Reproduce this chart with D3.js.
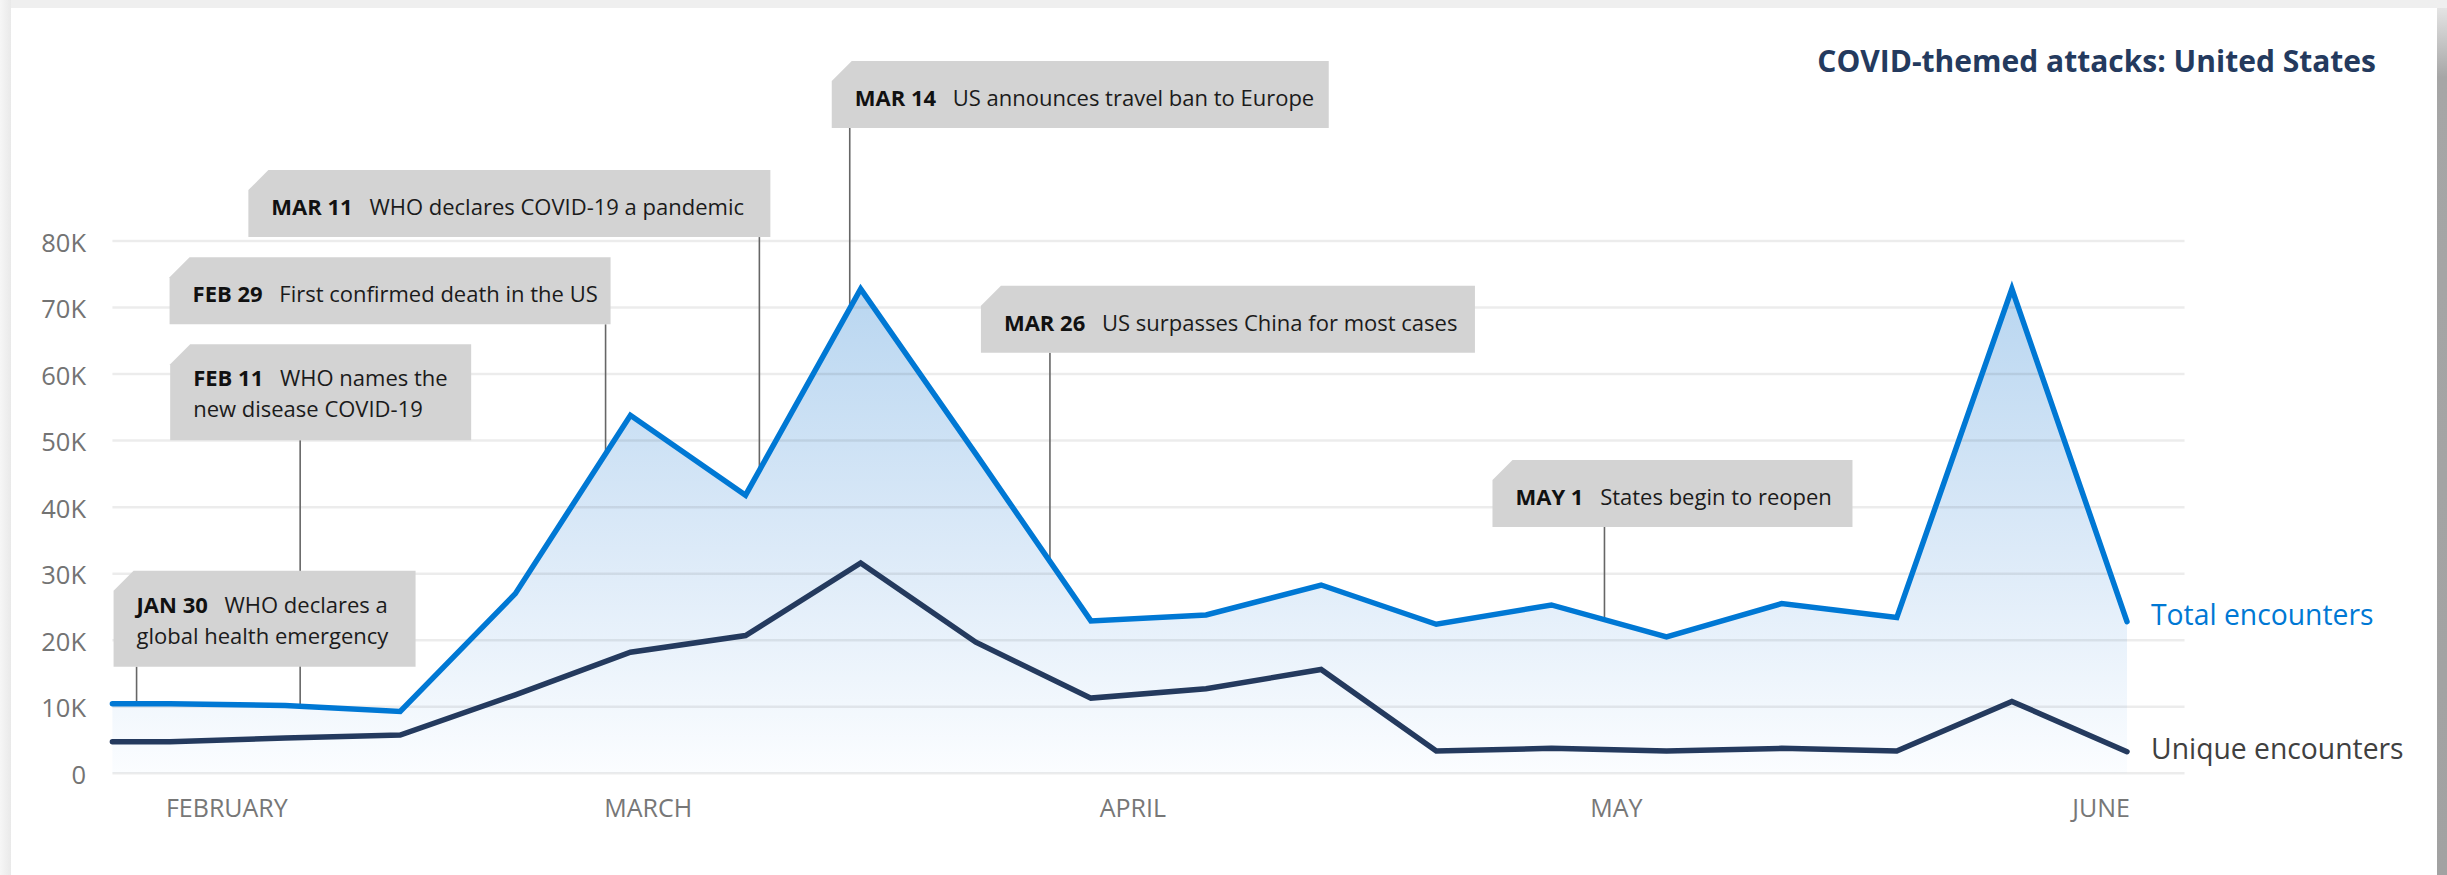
<!DOCTYPE html>
<html><head><meta charset="utf-8">
<script src="https://cdn.jsdelivr.net/npm/d3@7"></script>
<style>
body{margin:0;background:#fff;}
svg{display:block;font-family:"Open Sans","Noto Sans",sans-serif;}
</style>
</head><body>
<svg id="chart" width="2447" height="875"></svg>
<script>
// ---------------- data ----------------
const weekIndex = [-0.5, 0, 1, 2, 3, 4, 5, 6, 7, 8, 9, 10, 11, 12, 13, 14, 15, 16, 17];
const totalEncounters  = [10.45, 10.45, 10.2, 9.3, 27.0, 53.8, 41.8, 72.8, 48.0, 22.9, 23.8, 28.3, 22.4, 25.3, 20.5, 25.5, 23.4, 72.8, 22.8]; // thousands
const uniqueEncounters = [4.75, 4.75, 5.3, 5.75, 11.8, 18.2, 20.7, 31.6, 19.7, 11.3, 12.7, 15.6, 3.35, 3.75, 3.35, 3.75, 3.35, 10.8, 3.25]; // thousands
const yTickValues = [0, 10, 20, 30, 40, 50, 60, 70, 80];
const yTickLabels = ["0", "10K", "20K", "30K", "40K", "50K", "60K", "70K", "80K"];
const monthPositions = [0.49, 4.15, 8.36, 12.56, 16.77];
const monthLabels = ["FEBRUARY", "MARCH", "APRIL", "MAY", "JUNE"];
const seriesNames = ["Total encounters", "Unique encounters"];
const chartTitle = "COVID-themed attacks: United States";
const annotationDates = ["JAN 30", "FEB 11", "FEB 29", "MAR 11", "MAR 14", "MAR 26", "MAY 1"];
const annotationTexts = [
  ["WHO declares a", "global health emergency"],
  ["WHO names the", "new disease COVID-19"],
  ["First confirmed death in the US"],
  ["WHO declares COVID-19 a pandemic"],
  ["US announces travel ban to Europe"],
  ["US surpasses China for most cases"],
  ["States begin to reopen"]
];
const annotationAnchors = [-0.29, 1.131, 3.784, 5.12, 5.905, 7.644, 12.461]; // week index
const annotationBoxTops = [30.45, 64.5, 77.55, 90.66, 107.05, 73.28, 47.09];  // y value (thousands)

// ---------------- layout / style ----------------
const annotationLayout = [
  {dx: -23, w: 302}, {dx: -130, w: 301}, {dx: -436, w: 441}, {dx: -511, w: 522},
  {dx: -18, w: 497}, {dx: -69, w: 494}, {dx: -112, w: 360}
];
const W = 2447, H = 875;
const colTotal = "#0078d4", colUnique = "#243a5e";

const svg = d3.select("#chart");

// frame
const defs = svg.append("defs");
const lg = defs.append("linearGradient").attr("id","leftband").attr("x1",0).attr("x2",1).attr("y1",0).attr("y2",0);
lg.append("stop").attr("offset",0).attr("stop-color","#f6f6f6");
lg.append("stop").attr("offset",1).attr("stop-color","#e9e9e9");
const rg = defs.append("linearGradient").attr("id","rightband").attr("x1",0).attr("x2",0).attr("y1",0).attr("y2",1);
rg.append("stop").attr("offset",0).attr("stop-color","#e4e4e4");
rg.append("stop").attr("offset",0.08).attr("stop-color","#a6a6a6");
rg.append("stop").attr("offset",1).attr("stop-color","#a2a2a2");
svg.append("rect").attr("x",0).attr("y",0).attr("width",W).attr("height",8).attr("fill","#efefef");
svg.append("rect").attr("x",0).attr("y",0).attr("width",11).attr("height",H).attr("fill","url(#leftband)");
svg.append("rect").attr("x",2437).attr("y",8).attr("width",10).attr("height",H-8).attr("fill","url(#rightband)");

// scales
const x = d3.scaleLinear().domain([-0.5, 17]).range([112.4, 2127]);
const y = d3.scaleLinear().domain([0, 80]).range([773.3, 241]);

const totalData = weekIndex.map((w,i)=>({w, v: totalEncounters[i]}));
const uniqueData = weekIndex.map((w,i)=>({w, v: uniqueEncounters[i]}));

// area gradient
const ag = defs.append("linearGradient").attr("id","areaGrad").attr("gradientUnits","userSpaceOnUse")
  .attr("x1",0).attr("x2",0).attr("y1",y(75)).attr("y2",y(0));
ag.append("stop").attr("offset",0).attr("stop-color","#b7d5f0");
ag.append("stop").attr("offset",0.55).attr("stop-color","#dceaf8");
ag.append("stop").attr("offset",1).attr("stop-color","#fbfdff");

svg.append("path").datum(totalData)
  .attr("d", d3.area().x(d=>x(d.w)).y0(y(0)).y1(d=>y(d.v)))
  .attr("fill","url(#areaGrad)");

// gridlines
svg.append("g").selectAll("line").data(yTickValues).join("line")
  .attr("x1", x(-0.5)).attr("x2", x(17.5))
  .attr("y1", d=>y(d)).attr("y2", d=>y(d))
  .attr("stroke","rgba(0,0,0,0.075)").attr("stroke-width",2.5);

// y axis labels
const yAxis = d3.axisLeft(y).tickValues(yTickValues).tickFormat((d,i)=>yTickLabels[i]).tickSize(0).tickPadding(0);
const yg = svg.append("g").attr("transform","translate(86,0)").call(yAxis);
yg.select(".domain").remove();
yg.selectAll("text").attr("font-size",25.5).attr("fill","#737373").attr("font-family","Open Sans").attr("dy","0.4em").attr("x",0);

// x axis month labels
const xAxis = d3.axisBottom(x).tickValues(monthPositions).tickFormat((d,i)=>monthLabels[i]).tickSize(0);
const xg = svg.append("g").attr("transform",`translate(0,${y(0)})`).call(xAxis);
xg.select(".domain").remove();
xg.selectAll("text").attr("font-size",25).attr("fill","#777").attr("font-family","Open Sans").attr("y",35).attr("dy","0.36em");

// annotations
function totalAt(w){
  for(let i=0;i<weekIndex.length-1;i++){
    if(w>=weekIndex[i] && w<=weekIndex[i+1]){
      const t=(w-weekIndex[i])/(weekIndex[i+1]-weekIndex[i]);
      return totalEncounters[i]+t*(totalEncounters[i+1]-totalEncounters[i]);
    }
  }
  return totalEncounters[0];
}
const annG = svg.append("g");
const connG = annG.append("g");
const boxG = annG.append("g");
annotationDates.forEach((dt,i)=>{
  const ax = x(annotationAnchors[i]);
  const top = y(annotationBoxTops[i]);
  const lines = annotationTexts[i];
  const two = lines.length > 1;
  const h = two ? 96 : 67;
  const L = annotationLayout[i];
  connG.append("line").attr("x1",ax).attr("x2",ax).attr("y1",top+h).attr("y2",y(totalAt(annotationAnchors[i])))
    .attr("stroke","#666").attr("stroke-width",1.6);
  const bx = ax + L.dx, c = 20;
  boxG.append("path")
    .attr("d",`M${bx},${top+c} L${bx+c},${top} L${bx+L.w},${top} L${bx+L.w},${top+h} L${bx},${top+h} Z`)
    .attr("fill","#d3d3d3");
  const t = boxG.append("text").attr("x",bx+23).attr("y",top+(two?42:45)).attr("font-size",22).attr("fill","#1b1b1b");
  t.append("tspan").attr("font-weight",700).attr("fill","#111").text(dt);
  t.append("tspan").attr("dx",11).text(" "+lines[0]);
  if(two){
    boxG.append("text").attr("x",bx+23).attr("y",top+73).attr("font-size",22).attr("fill","#1b1b1b").text(lines[1]);
  }
});

// lines
const line = d3.line().x(d=>x(d.w)).y(d=>y(d.v));
svg.append("path").datum(uniqueData).attr("d",line).attr("fill","none")
  .attr("stroke",colUnique).attr("stroke-width",5.5).attr("stroke-linejoin","miter").attr("stroke-miterlimit",8).attr("stroke-linecap","round");
svg.append("path").datum(totalData).attr("d",line).attr("fill","none")
  .attr("stroke",colTotal).attr("stroke-width",5.5).attr("stroke-linejoin","miter").attr("stroke-miterlimit",8).attr("stroke-linecap","round");

// series labels
svg.append("text").attr("x",2151).attr("y",625).attr("font-size",28.3).attr("fill",colTotal).text(seriesNames[0]);
svg.append("text").attr("x",2151).attr("y",759).attr("font-size",28.3).attr("fill","#404040").text(seriesNames[1]);

// title
svg.append("text").attr("x",2376).attr("y",72).attr("text-anchor","end").attr("font-size",30).attr("font-weight",700)
  .attr("fill","#243a5e").text(chartTitle);
</script>
</body></html>
